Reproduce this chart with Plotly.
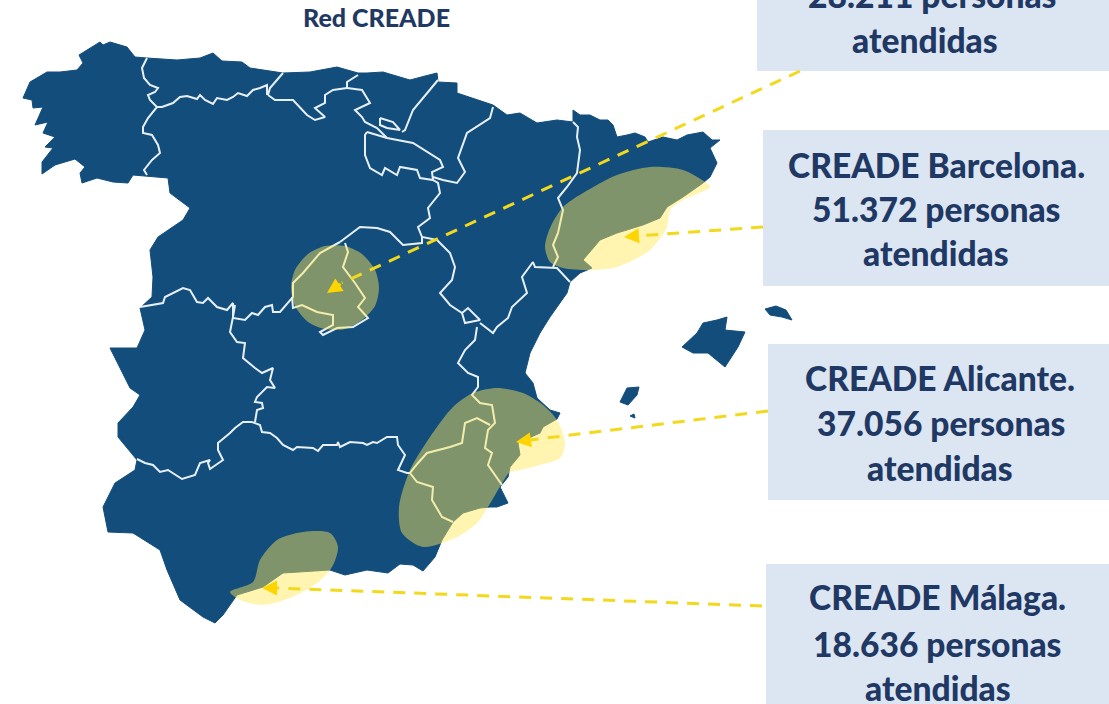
import plotly.graph_objects as go

NAVY = "#134d7c"
BORDER = "#e8f0f7"
TEXT = "#1f3864"
BOX = "#dce6f2"
DASH = "#f2d91c"
OVER = "rgba(255,233,85,0.46)"

peninsula = [(23,98),(30,82),(47,72),(60,72),(77,70),(83,63),(79,55),(90,48),(100,42),(103,45),(110,42),(127,47),(135,57),(147,58),(177,60),(200,58),(213,53),(222,61),(242,62),(250,68),(283,73),(310,72),(337,67),(358,73),(367,73),(383,72),(410,80),(425,76),(437,73),(438,82),(457,83),(457,93),(493,105),(507,115),(520,113),(537,123),(557,120),(573,122),(573,110),(580,115),(590,115),(600,120),(608,120),(613,125),(617,137),(627,135),(635,133),(645,137),(648,142),(663,137),(677,140),(687,135),(703,132),(712,140),(720,140),(710,148),(717,163),(710,177),(703,183),(683,197),(667,207),(660,218),(643,225),(617,233),(600,240),(583,260),(592,268),(580,273),(570,282),(567,293),(550,317),(540,333),(530,353),(525,373),(533,383),(537,398),(550,410),(560,413),(557,419),(543,427),(540,433),(518,443),(520,455),(510,467),(508,477),(500,487),(508,503),(497,507),(490,507),(480,508),(463,513),(453,522),(442,540),(435,557),(423,571),(413,565),(400,564),(388,573),(367,570),(345,575),(330,570),(283,573),(263,587),(237,595),(223,615),(215,623),(203,617),(180,600),(167,570),(160,550),(133,533),(108,532),(103,507),(115,483),(135,470),(137,460),(118,437),(118,423),(133,407),(140,395),(130,388),(122,372),(110,348),(137,348),(145,330),(140,308),(152,297),(153,277),(150,250),(158,237),(183,220),(190,208),(177,198),(170,193),(168,178),(133,175),(128,183),(113,182),(97,178),(82,183),(80,173),(85,167),(75,159),(55,165),(42,174),(42,162),(53,148),(45,147),(55,137),(43,133),(48,122),(35,125),(43,107),(33,108),(32,100),(23,98)]
mallorca = [(682,347),(697,333),(703,323),(717,320),(727,317),(725,330),(745,332),(738,347),(725,367),(708,353),(693,353),(682,347)]
menorca = [(765,309),(776,306),(786,310),(792,320),(782,317),(770,315),(765,309)]
ibiza = [(620,402),(627,388),(639,387),(637,395),(628,405),(620,402)]
formentera = [(630,416),(634,414),(635,418),(630,416)]

borders = [
    [(147,58),(142,68),(144,78),(150,85),(158,88),(155,92),(148,95),(150,100),(157,107),(148,118),(143,127),(143,133),(152,135),(158,145),(160,153),(152,160),(144,170),(147,175)],
    [(157,107),(162,107),(173,103),(180,97),(187,96),(197,99),(200,95),(205,100),(213,104),(217,98),(227,100),(233,97),(238,93),(247,96),(253,90),(260,88),(267,85),(267,95)],
    [(283,73),(270,88),(268,95)],
    [(268,95),(275,100),(293,100),(307,115),(315,120),(325,117),(315,108),(325,103),(325,95),(333,90),(347,88)],
    [(358,75),(347,82),(347,88)],
    [(347,88),(362,90),(370,103),(355,110),(362,117),(365,122),(377,128),(387,138)],
    [(367,132),(387,138),(413,143),(440,160),(443,167),(432,172),(433,180),(420,178),(417,170),(400,167),(397,175),(385,168),(382,175),(370,168),(365,155),(365,135),(367,132)],
    [(380,118),(393,122),(400,130),(387,128),(380,125),(380,118)],
    [(438,80),(427,93),(413,110),(405,130),(402,132)],
    [(493,107),(490,118),(467,133),(462,147),(458,158),(465,172),(457,183),(443,180),(433,177)],
    [(433,180),(438,183),(440,193),(428,208),(430,218),(418,227),(422,237),(437,240)],
    [(422,237),(422,243),(403,245),(390,232),(377,228),(360,227),(340,242)],
    [(340,242),(320,253),(303,273),(293,283),(293,297),(280,312),(273,312),(272,305),(265,307),(258,315),(252,313),(245,320),(233,318),(233,303),(227,310),(217,307),(208,298),(203,303),(197,302),(190,290),(183,288),(173,293),(165,297),(163,303),(150,305),(140,307)],
    [(345,243),(348,252),(343,267),(355,283),(365,298),(358,307),(368,318),(353,327),(337,328),(323,335),(320,332),(333,325),(333,315),(317,312),(302,305),(293,308),(292,297)],
    [(437,240),(450,253),(455,267),(452,280),(440,293),(450,305),(462,313),(468,308),(480,320),(465,323),(462,313)],
    [(480,323),(493,333),(497,327),(508,318),(512,307),(527,293),(522,277),(533,262),(535,267),(557,268),(570,282)],
    [(573,122),(578,127),(577,137),(580,150),(577,173),(567,187),(558,198),(563,210),(558,233),(553,245),(558,257),(553,267)],
    [(477,327),(475,340),(465,350),(458,363),(468,373),(478,377),(478,387),(472,395),(480,403),(492,405),(495,423),(488,430),(485,448),(492,453),(488,465),(502,485)],
    [(490,425),(477,418),(465,423),(462,443),(450,447),(427,453),(418,463),(410,473),(417,482),(433,487),(432,500),(442,517),(453,522)],
    [(252,422),(260,425),(262,432),(270,433),(277,438),(283,445),(293,450),(297,447),(313,448),(318,451),(323,445),(337,445),(338,442),(340,447),(350,442),(363,443),(367,445),(373,442),(377,443),(387,437),(397,437),(398,445),(405,455),(398,470),(407,473),(410,473)],
    [(252,422),(243,422),(235,428),(230,433),(218,443),(218,450),(223,460),(210,469),(208,463),(210,460),(200,463),(195,475),(182,479),(173,473),(168,470),(160,472),(153,465),(145,463),(137,459)],
    [(255,422),(257,410),(263,408),(262,403),(255,402),(257,397),(267,387),(275,388),(270,380),(273,368),(262,373),(255,368),(243,358),(245,343),(237,342),(230,332),(233,317),(235,305)],
]

madrid_zone = [(291,288),(295,270),(308,254),(325,246),(345,246),(362,254),(375,270),(379,288),(375,306),(362,320),(345,329),(325,329),(308,322),(295,306),(291,288)]
barcelona_zone = [(545,247),(550,228),(563,207),(583,193),(617,175),(650,167),(683,170),(705,182),(710,187),(683,200),(670,210),(667,227),(650,250),(617,267),(592,270),(563,268),(550,262),(545,247)]
alicante_zone = [(423,547),(402,533),(399,507),(410,470),(430,437),(453,407),(473,393),(497,388),(523,393),(543,405),(557,420),(565,443),(560,458),(540,465),(520,470),(510,472),(501,485),(488,507),(477,523),(457,537),(423,547)]
malaga_zone = [(230,592),(253,582),(260,560),(277,540),(303,532),(330,533),(338,547),(332,567),(317,583),(290,598),(263,605),(240,600),(230,592)]
zones = [madrid_zone, barcelona_zone, alicante_zone, malaga_zone]

leaders = [((800,71),(342,283)), ((763,227),(637,236)), ((768,411),(530,440)), ((762,606),(276,588))]
tips = [(327,293),(624,237),(516,442),(262,588)]

boxes = [(757,-10,1109,71),(763,130,1109,286),(768,344,1109,500),(766,564,1109,704)]
labels = [
    (932,-5,"28.211 personas"),(925,40,"atendidas"),
    (936,165,"CREADE Barcelona."),(936,209,"51.372 personas"),(936,253,"atendidas"),
    (940,378,"CREADE Alicante."),(941,423,"37.056 personas"),(940,468,"atendidas"),
    (937,597,"CREADE Málaga."),(937,644,"18.636 personas"),(938,688,"atendidas"),
]
title_text = "Red CREADE"
title_pos = (376,17)

fig = go.Figure()
for poly in [peninsula, mallorca, menorca, ibiza, formentera]:
    fig.add_trace(go.Scatter(x=[p[0] for p in poly], y=[p[1] for p in poly], mode="lines",
                             fill="toself", fillcolor=NAVY, line=dict(color=NAVY, width=1), hoverinfo="skip"))
for b in borders:
    fig.add_trace(go.Scatter(x=[p[0] for p in b], y=[p[1] for p in b], mode="lines",
                             line=dict(color=BORDER, width=2), hoverinfo="skip"))
for z in zones:
    fig.add_trace(go.Scatter(x=[p[0] for p in z], y=[p[1] for p in z], mode="lines",
                             fill="toself", fillcolor=OVER, line=dict(width=0, shape="spline", smoothing=0.8),
                             hoverinfo="skip"))
for a, b in leaders:
    fig.add_trace(go.Scatter(x=[a[0], b[0]], y=[a[1], b[1]], mode="lines",
                             line=dict(color=DASH, width=3, dash="12px,9px"), hoverinfo="skip"))

shapes = [dict(type="rect", xref="x", yref="y", x0=b[0], y0=b[1], x1=b[2], y1=b[3],
               fillcolor=BOX, line=dict(width=0), layer="below") for b in boxes]
annotations = []
for (x, y, t) in labels:
    annotations.append(dict(x=x, y=max(y, 0), yshift=-min(y, 0), text=t, showarrow=False, xanchor="center",
                            yanchor="middle", font=dict(family="Lato", size=33.6, color=TEXT, weight=900)))
annotations.append(dict(x=title_pos[0], y=title_pos[1], text=title_text, showarrow=False,
                        font=dict(family="Lato", size=25, color=TEXT, weight=900)))
for (a, b), t in zip(leaders, tips):
    annotations.append(dict(x=t[0], y=t[1], ax=b[0], ay=b[1], axref="x", ayref="y", xref="x", yref="y", text="",
                            showarrow=True, arrowhead=2, arrowsize=1, arrowwidth=3, arrowcolor="#ffd500"))

fig.update_layout(
    width=1109, height=704, margin=dict(l=0, r=0, t=0, b=0), showlegend=False,
    paper_bgcolor="white", plot_bgcolor="white", shapes=shapes, annotations=annotations,
    xaxis=dict(range=[0, 1109], visible=False, fixedrange=True),
    yaxis=dict(range=[704, 0], visible=False, fixedrange=True),
)
fig.write_html("out.html", post_script="document.body.style.margin='0';", config=dict(displayModeBar=False))
